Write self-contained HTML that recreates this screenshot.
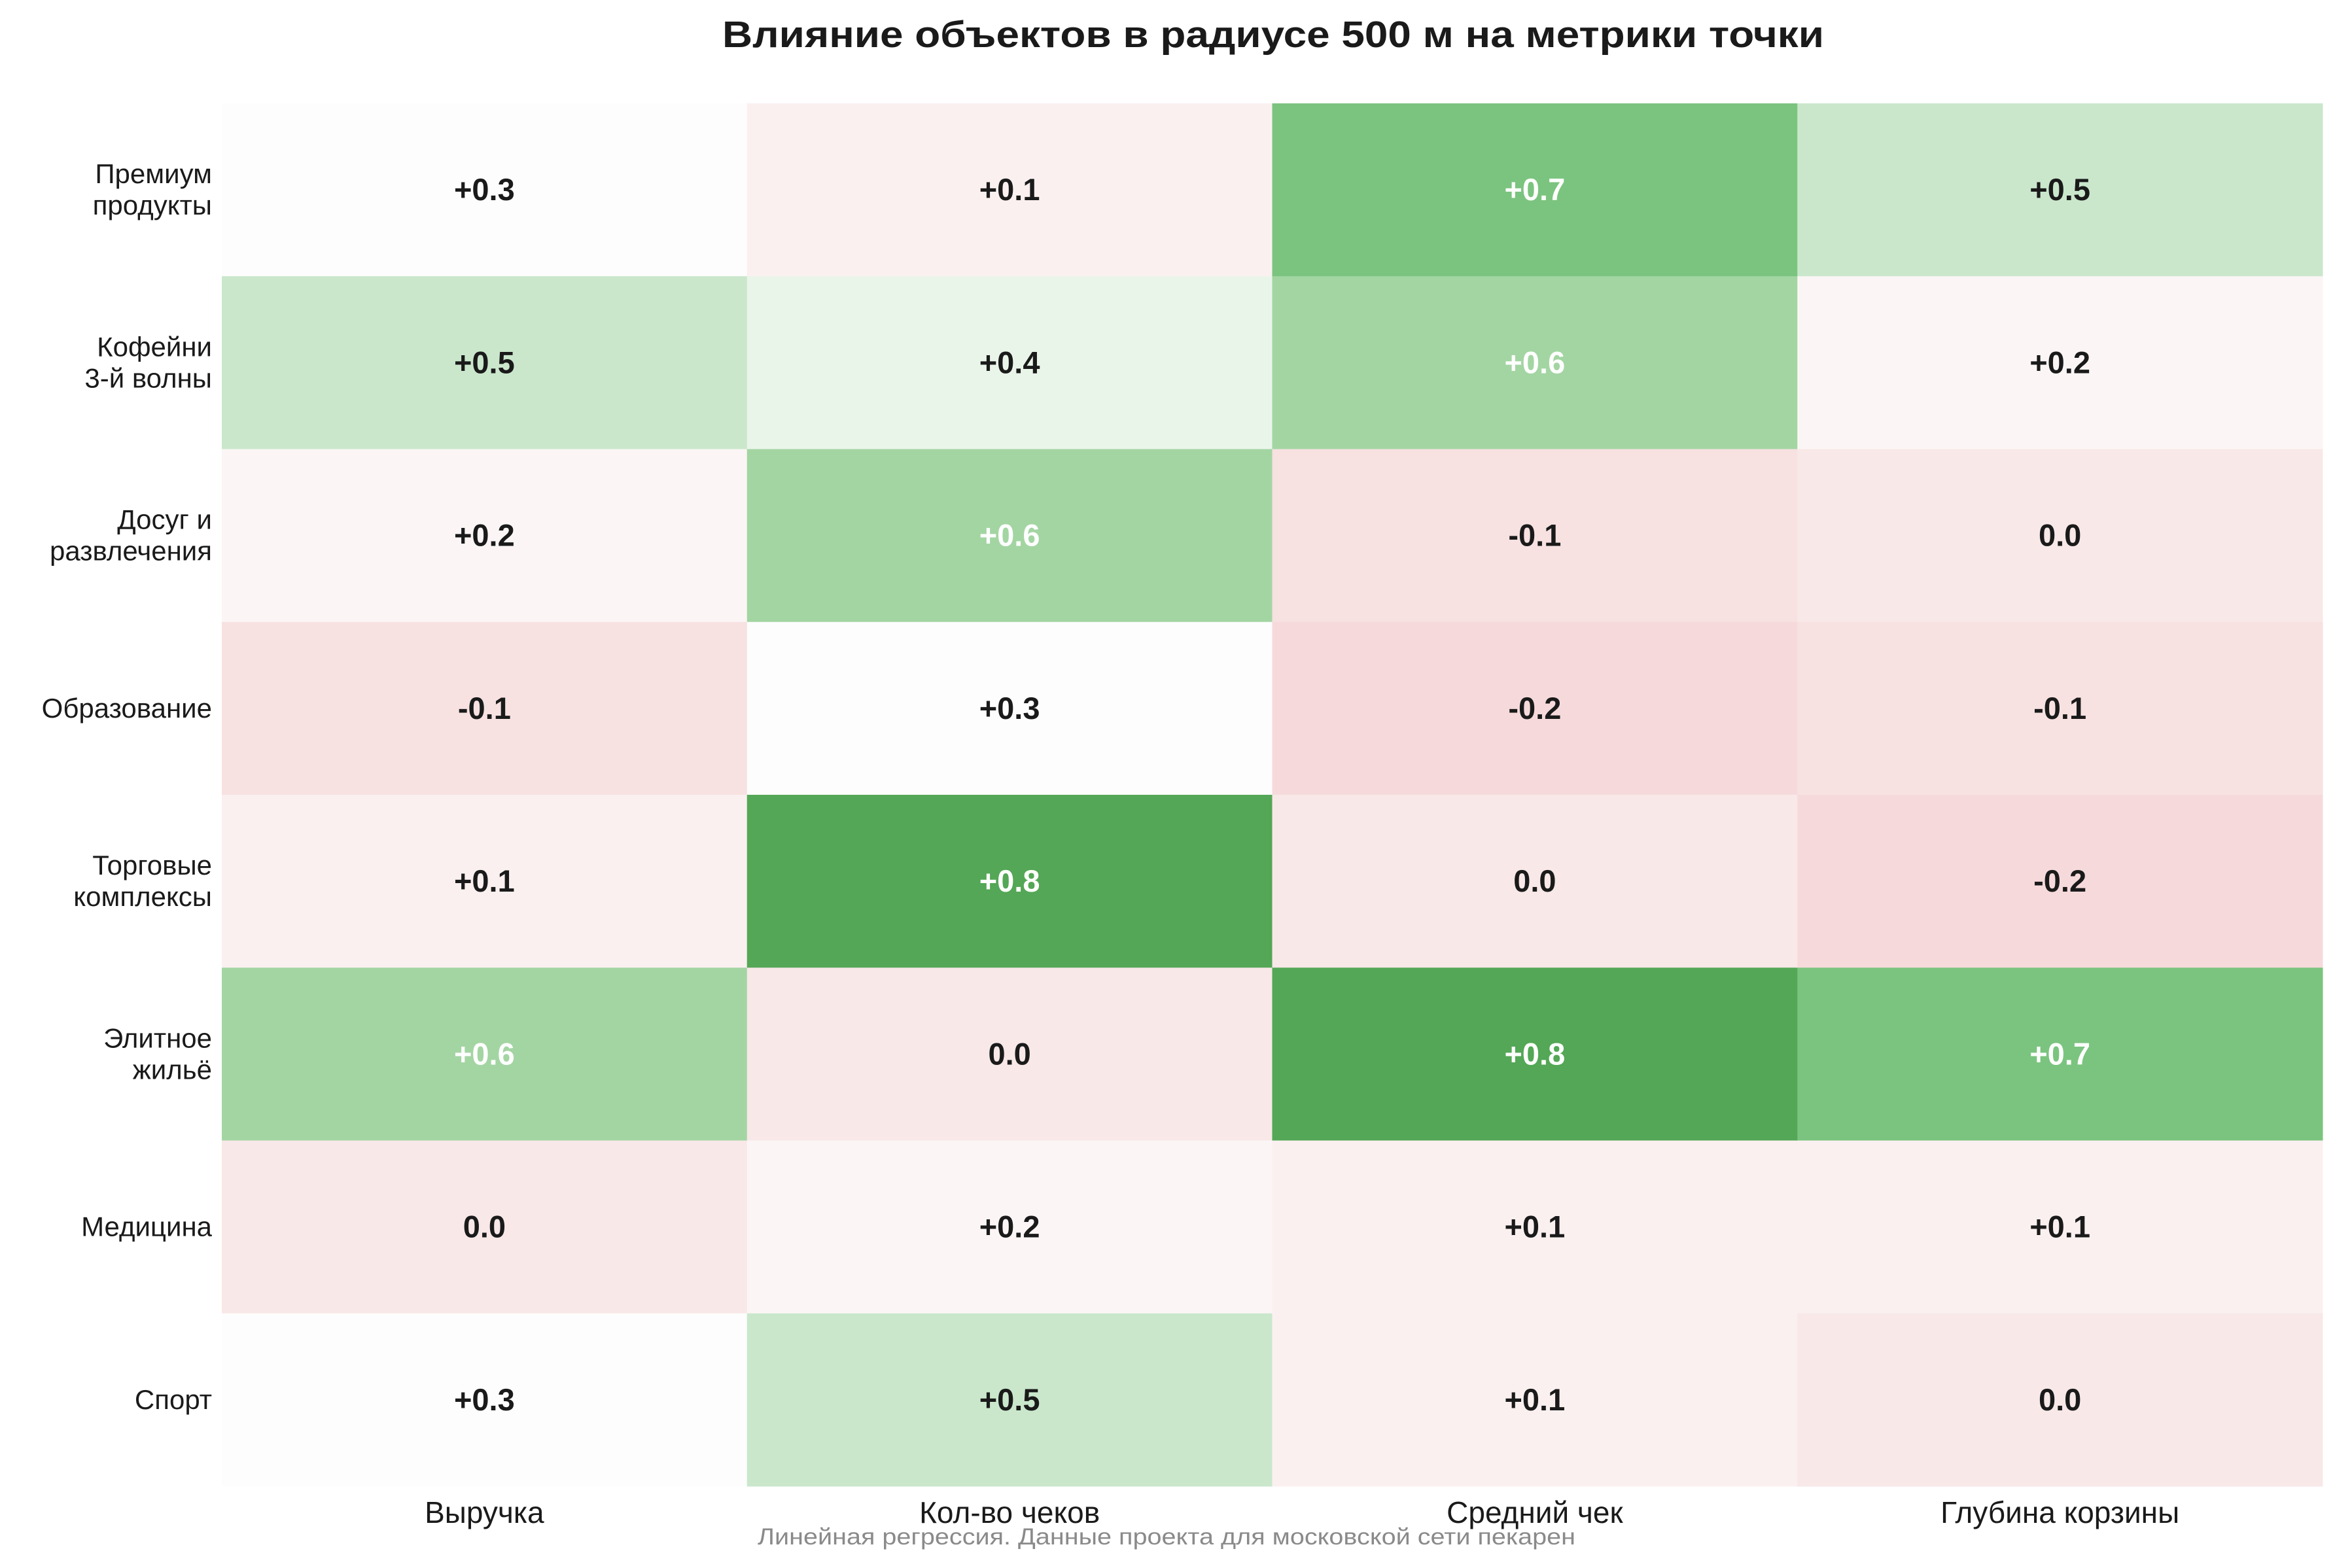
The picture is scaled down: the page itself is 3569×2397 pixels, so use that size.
<!DOCTYPE html>
<html><head><meta charset="utf-8"><style>
html,body{margin:0;padding:0;background:#fff;}
svg{display:block;font-family:"Liberation Sans","DejaVu Sans",sans-serif;}
</style></head><body>
<svg id="chart" width="3569" height="2397" viewBox="0 0 3569 2397" xmlns="http://www.w3.org/2000/svg">
<rect width="3569" height="2397" fill="#fff"/>
<text x="1946" y="72" text-anchor="middle" font-size="57" font-weight="bold" fill="#1a1a1a" textLength="1684" lengthAdjust="spacingAndGlyphs">Влияние объектов в радиусе 500 м на метрики точки</text>
<g id="cells"></g>
<g id="ylabels"></g>
<g id="xlabels"></g>
<text x="1783" y="2361" text-anchor="middle" font-size="35" fill="#8a8a8a" textLength="1250" lengthAdjust="spacingAndGlyphs">Линейная регрессия. Данные проекта для московской сети пекарен</text>
</svg>
<script>
const rowLabels = [["Премиум","продукты"],["Кофейни","3-й волны"],["Досуг и","развлечения"],["Образование"],["Торговые","комплексы"],["Элитное","жильё"],["Медицина"],["Спорт"]];
const colLabels = ["Выручка","Кол-во чеков","Средний чек","Глубина корзины"];
const valRevenue = [0.3,0.5,0.2,-0.1,0.1,0.6,0.0,0.3];
const valChecks = [0.1,0.4,0.6,0.3,0.8,0.0,0.2,0.5];
const valAvgCheck = [0.7,0.6,-0.1,-0.2,0.0,0.8,0.1,0.1];
const valBasket = [0.5,0.2,0.0,-0.1,-0.2,0.7,0.1,0.0];
const series = [valRevenue,valChecks,valAvgCheck,valBasket];

const X0=339,X1=3550,Y0=158,Y1=2272;
const cw=(X1-X0)/colLabels.length, rh=(Y1-Y0)/rowLabels.length;
const xPos=c=>X0+c*cw, yPos=r=>Y0+r*rh;
const stops=[[-0.2,[246,218,219]],[-0.1,[247,225,225]],[0.0,[248,232,232]],[0.1,[251,240,240]],[0.2,[251,246,245]],[0.3,[253,253,253]],[0.4,[234,245,234]],[0.5,[202,231,204]],[0.6,[163,213,163]],[0.7,[123,196,127]],[0.8,[83,167,86]]];
function color(v){
  if(v<=stops[0][0])return 'rgb('+stops[0][1]+')';
  for(let i=0;i<stops.length-1;i++){const a=stops[i],b=stops[i+1];
    if(v<=b[0]+1e-9){const t=(v-a[0])/(b[0]-a[0]);return 'rgb('+a[1].map((x,k)=>Math.round(x+(b[1][k]-x)*t)).join(',')+')';}}
  return 'rgb('+stops[stops.length-1][1]+')';
}
const NS='http://www.w3.org/2000/svg';
const cells=document.getElementById('cells');
series.forEach((vals,c)=>{vals.forEach((v,r)=>{
  const rect=document.createElementNS(NS,'rect');
  
  
  rect.setAttribute('x',xPos(c));rect.setAttribute('y',yPos(r));
  rect.setAttribute('width',cw+0.5);rect.setAttribute('height',rh+0.5);
  rect.setAttribute('fill',color(v));cells.appendChild(rect);
  const t=document.createElementNS(NS,'text');
  
  
  t.setAttribute('x',xPos(c)+cw/2);t.setAttribute('y',yPos(r)+rh/2+16);
  t.setAttribute('text-anchor','middle');t.setAttribute('font-size','47');t.setAttribute('font-weight','bold');
  t.setAttribute('fill',v>=0.55?'#ffffff':'#1a1a1a');
  t.textContent=(v>0?'+':'')+v.toFixed(1);cells.appendChild(t);
});});
const yl=document.getElementById('ylabels');
rowLabels.forEach((lines,r)=>{
  const t=document.createElementNS(NS,'text');
  
  
  t.setAttribute('text-anchor','end');t.setAttribute('font-size','42');t.setAttribute('fill','#1a1a1a');
  const cy=yPos(r)+rh/2, lh=48, start=cy-(lines.length-1)*lh/2+14;
  lines.forEach((s,i)=>{const sp=document.createElementNS(NS,'tspan');sp.setAttribute('x',324);sp.setAttribute('y',start+i*lh);sp.textContent=s;t.appendChild(sp);});
  yl.appendChild(t);
});
const xl=document.getElementById('xlabels');
colLabels.forEach((s,c)=>{
  const t=document.createElementNS(NS,'text');
  
  
  t.setAttribute('x',xPos(c)+cw/2);t.setAttribute('y',2328);
  t.setAttribute('text-anchor','middle');t.setAttribute('font-size','46');t.setAttribute('fill','#1a1a1a');
  t.textContent=s;xl.appendChild(t);
});
</script>
</body></html>
